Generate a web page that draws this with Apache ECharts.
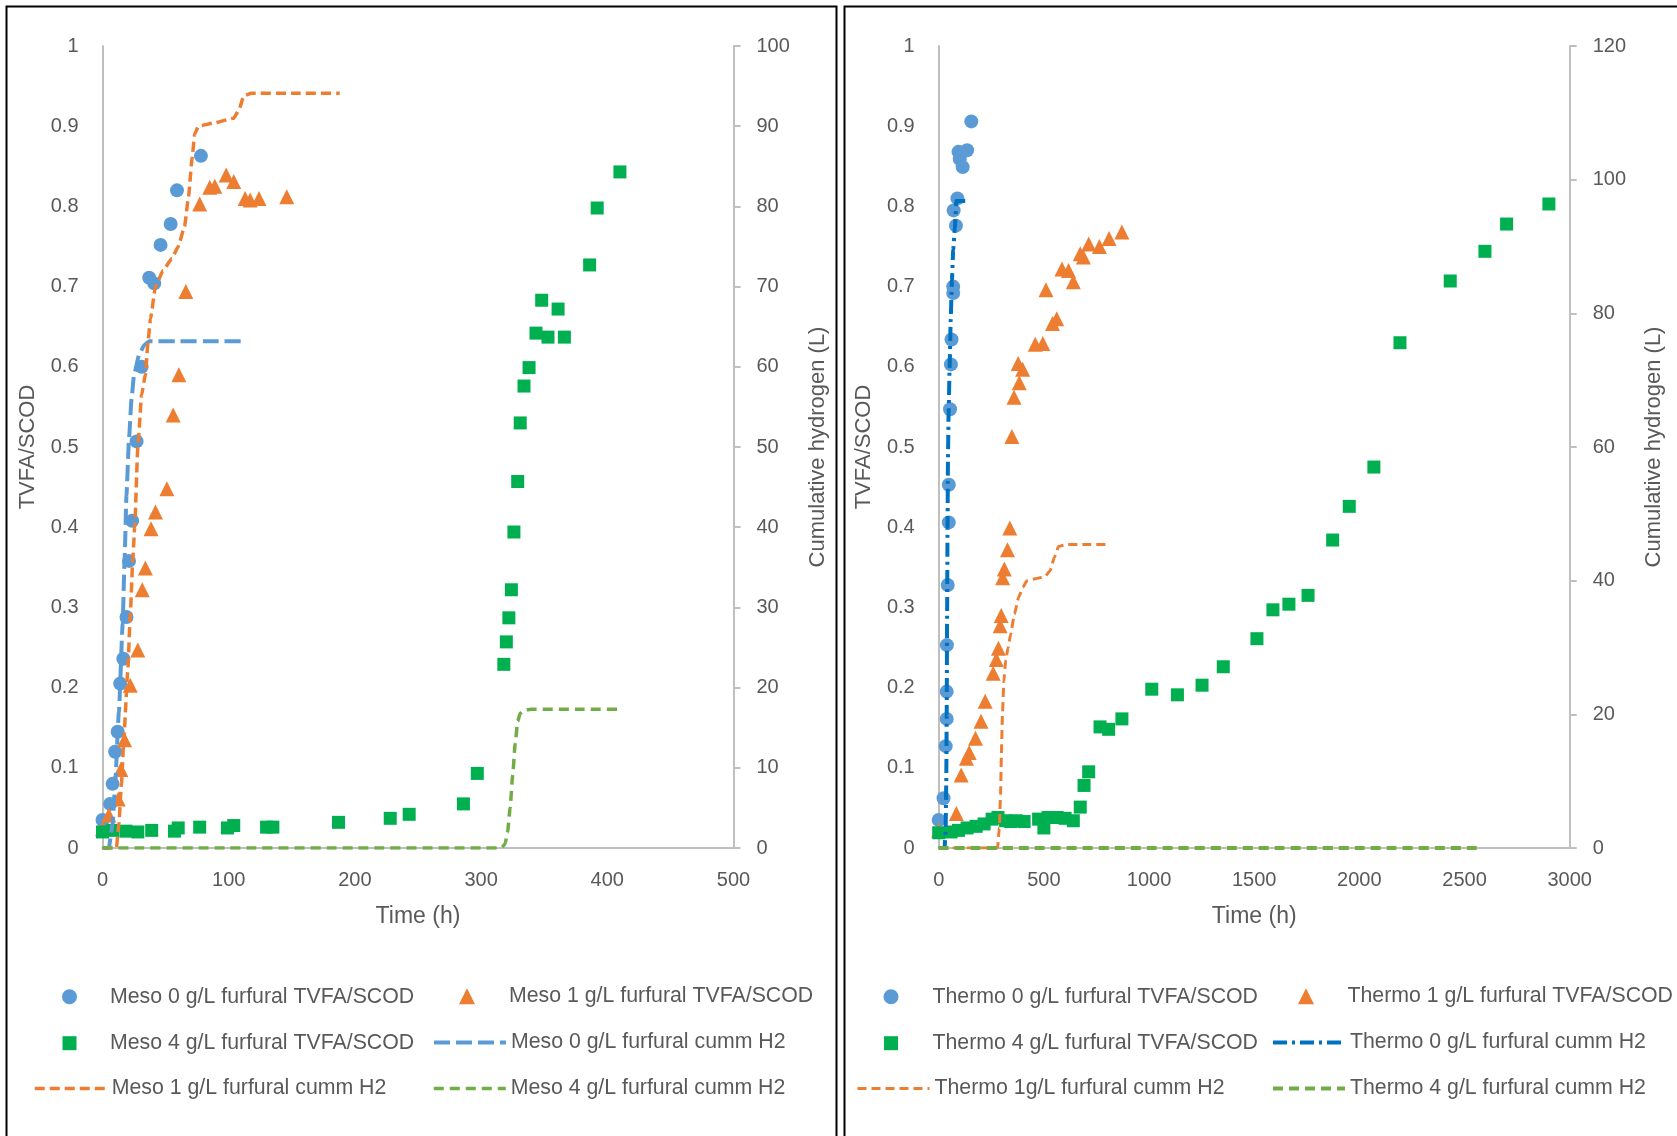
<!DOCTYPE html>
<html>
<head>
<meta charset="utf-8">
<script src="https://cdn.jsdelivr.net/npm/echarts@6/dist/echarts.min.js"></script>
<style>
  html, body { margin: 0; padding: 0; background: #fff; }
  #chart { width: 1677px; height: 1136px; }
</style>
</head>
<body>
<div id="chart"></div>
<script>
// ---- Mesophilic run: TVFA/SCOD ratio vs time (h) ----
const meso0Tvfa = [[0,0.035],[6,0.055],[8,0.08],[10,0.12],[12,0.145],[14,0.205],[16.5,0.236],[19,0.288],[21,0.358],[23.5,0.408],[27,0.507],[31,0.600],[37,0.711],[41,0.704],[46,0.752],[54,0.778],[59,0.820],[78,0.863]];
const meso1Tvfa = [[0,0.024],[5,0.041],[12.5,0.061],[14.5,0.098],[17.5,0.135],[22,0.203],[28,0.247],[31.5,0.322],[34,0.349],[38.5,0.398],[42,0.419],[51,0.448],[56,0.540],[60.5,0.590],[66,0.694],[77,0.803],[85,0.824],[89,0.825],[98,0.839],[104,0.831],[113,0.810],[117,0.808],[124,0.810],[146,0.812]];
const meso4Tvfa = [[0,0.020],[8,0.022],[18.5,0.021],[28,0.020],[39,0.022],[57,0.021],[60,0.025],[77,0.026],[99,0.025],[104,0.028],[130,0.026],[135,0.026],[187,0.032],[228,0.037],[243,0.042],[286,0.055],[297,0.093],[318,0.229],[320,0.257],[322,0.287],[324,0.322],[326,0.394],[329,0.457],[331,0.530],[334,0.576],[338,0.599],[343.5,0.642],[348,0.683],[353,0.637],[361,0.672],[366,0.637],[386,0.727],[392,0.798],[410,0.843]];

// ---- Mesophilic run: cumulative hydrogen (L) vs time (h) ----
const meso0H2 = [[0,0],[5,0],[8,3],[10,8],[13,17],[16,28],[17.5,36],[19,44],[21,51],[23,56],[25,59],[29,61.5],[33,62.7],[37,63.2],[60,63.2],[90,63.2],[113,63.2]];
const meso1H2 = [[0,0],[11,0],[13,3],[15,8],[17,14],[20,22],[22,29],[24,36],[25.5,40],[28,50],[31,56.5],[34,59],[36,63],[38,66],[42,70],[48,72],[55,73.5],[60,75],[65,77.5],[68,81],[71,86],[73,89],[76,90],[88,90.4],[104,91],[108,92],[112,93.8],[118,94.1],[150,94.1],[188,94.1]];
const meso4H2 = [[0,0],[100,0],[200,0],[300,0],[316,0],[319,0.5],[321,2],[323,5],[325,9],[327,13],[329,15.8],[331,16.8],[334,17.2],[340,17.3],[380,17.3],[410,17.3]];

// ---- Thermophilic run: TVFA/SCOD ratio vs time (h) ----
const thermo0Tvfa = [[0,0.035],[23,0.062],[33,0.127],[38,0.161],[38,0.195],[39,0.253],[43,0.328],[48,0.406],[48,0.453],[54,0.547],[58,0.603],[61,0.634],[69,0.692],[69,0.700],[82,0.776],[71,0.795],[89,0.810],[114,0.849],[100,0.859],[94,0.868],[135,0.870],[155,0.906]];
const thermo1Tvfa = [[0,0.022],[84,0.043],[107,0.091],[132,0.112],[145,0.119],[175,0.137],[201,0.158],[221,0.183],[259,0.218],[274,0.235],[284,0.249],[292,0.277],[297,0.290],[304,0.337],[312,0.348],[327,0.372],[338,0.399],[348,0.513],[358,0.562],[383,0.580],[378,0.604],[399,0.597],[459,0.628],[495,0.629],[510,0.696],[541,0.654],[561,0.660],[586,0.722],[617,0.720],[640,0.706],[673,0.741],[688,0.737],[713,0.753],[764,0.750],[810,0.760],[871,0.768]];
const thermo4Tvfa = [[0,0.019],[59,0.020],[94,0.022],[135,0.025],[178,0.027],[216,0.030],[254,0.036],[282,0.038],[318,0.034],[343,0.033],[368,0.034],[406,0.033],[475,0.036],[500,0.025],[520,0.038],[563,0.038],[601,0.037],[640,0.034],[673,0.051],[691,0.078],[713,0.095],[767,0.151],[808,0.148],[871,0.161],[1013,0.198],[1135,0.191],[1252,0.203],[1353,0.226],[1513,0.261],[1589,0.297],[1665,0.304],[1756,0.315],[1873,0.384],[1952,0.426],[2069,0.475],[2193,0.630],[2432,0.707],[2597,0.744],[2700,0.778],[2901,0.803]];

// ---- Thermophilic run: cumulative hydrogen (L) vs time (h) ----
const thermo0H2 = [[0,0],[28,0],[33,3],[36,10],[38,20],[40,35],[42,48],[44,58],[47,65],[52,72],[57,79],[63,85],[69,89.5],[77,92.8],[84,96.8],[110,96.8],[150,96.8]];
const thermo1H2 = [[0,0],[200,0],[280,0],[288,3],[294,8],[298,14],[303,20],[310,25],[318,28],[330,30],[342,32],[360,35],[380,37.5],[400,39],[420,40],[460,40.3],[505,40.6],[530,41.5],[550,43.5],[570,45.1],[600,45.4],[700,45.4],[793,45.4]];
const thermo4H2 = [[0,0],[500,0],[1000,0],[1500,0],[2000,0],[2580,0]];

// ---- Axis ranges / titles ----
const mesoTimeAxis = { min: 0, max: 500, interval: 100 };
const thermoTimeAxis = { min: 0, max: 3000, interval: 500 };
const ratioAxis = { min: 0, max: 1, interval: 0.1 };
const mesoH2Axis = { min: 0, max: 100, interval: 10 };
const thermoH2Axis = { min: 0, max: 120, interval: 20 };
const timeTitle = 'Time (h)';
const ratioTitle = 'TVFA/SCOD';
const h2Title = 'Cumulative hydrogen (L)';

const FONT = '"Liberation Sans", Arial, sans-serif';
const TEXT = '#595959';
const AXIS = '#BFBFBF';
const BLUE = '#5B9BD5', ORANGE = '#ED7D31', GREEN = '#00B050', LGREEN = '#70AD47', DBLUE = '#0070C0';

const chart = echarts.init(document.getElementById('chart'), null, { renderer: 'canvas' });

const plainNumber = v => String(Math.round(v * 1000) / 1000);

function xAxisCfg(gridIndex, r) {
  return {
    type: 'value', gridIndex, min: r.min, max: r.max, interval: r.interval,
    name: timeTitle, nameLocation: 'middle', nameGap: 57,
    nameTextStyle: { fontSize: 23, color: TEXT, fontFamily: FONT },
    axisLine: { show: true, onZero: false, lineStyle: { color: AXIS, width: 2 } },
    axisTick: { show: false },
    splitLine: { show: false },
    axisLabel: { margin: 22, fontSize: 20, color: TEXT, fontFamily: FONT, formatter: plainNumber }
  };
}
function leftYCfg(gridIndex, r) {
  return {
    type: 'value', gridIndex, position: 'left', min: r.min, max: r.max, interval: r.interval,
    name: ratioTitle, nameLocation: 'middle', nameGap: 64,
    nameTextStyle: { fontSize: 22, color: TEXT, fontFamily: FONT },
    axisLine: { show: true, onZero: false, lineStyle: { color: AXIS, width: 2 } },
    axisTick: { show: false },
    splitLine: { show: false },
    axisLabel: { margin: 24, fontSize: 20, color: TEXT, fontFamily: FONT, formatter: plainNumber }
  };
}
function rightYCfg(gridIndex, r) {
  return {
    type: 'value', gridIndex, position: 'right', min: r.min, max: r.max, interval: r.interval,
    name: h2Title, nameLocation: 'middle', nameGap: 73,
    nameTextStyle: { fontSize: 22, color: TEXT, fontFamily: FONT },
    axisLine: { show: true, onZero: false, lineStyle: { color: AXIS, width: 2 } },
    axisTick: { show: true, length: 7, lineStyle: { color: AXIS, width: 2 } },
    splitLine: { show: false },
    axisLabel: { margin: 23, fontSize: 20, color: TEXT, fontFamily: FONT, formatter: plainNumber }
  };
}

function scatter(name, data, xi, yi, symbol, size, color) {
  return {
    name, type: 'scatter', data, xAxisIndex: xi, yAxisIndex: yi,
    symbol, symbolSize: size, itemStyle: { color, opacity: 1 }
  };
}
function line(name, data, xi, yi, color, width, dash) {
  return {
    name, type: 'line', data, xAxisIndex: xi, yAxisIndex: yi,
    symbol: 'none', showSymbol: false, smooth: 0.15, smoothMonotone: 'x',
    itemStyle: { color },
    lineStyle: { color, width, type: dash, cap: 'butt' }
  };
}

const series = [
  scatter('Meso 0 g/L furfural TVFA/SCOD', meso0Tvfa, 0, 0, 'circle', 14, BLUE),
  scatter('Meso 1 g/L furfural TVFA/SCOD', meso1Tvfa, 0, 0, 'triangle', 15, ORANGE),
  scatter('Meso 4 g/L furfural TVFA/SCOD', meso4Tvfa, 0, 0, 'rect', 13, GREEN),
  line('Meso 0 g/L furfural cumm H2', meso0H2, 0, 1, BLUE, 4, [16, 6]),
  line('Meso 1 g/L furfural cumm H2', meso1H2, 0, 1, ORANGE, 3.5, [10, 5]),
  line('Meso 4 g/L furfural cumm H2', meso4H2, 0, 1, LGREEN, 3.5, [10, 6]),
  scatter('Thermo 0 g/L furfural TVFA/SCOD', thermo0Tvfa, 1, 2, 'circle', 14, BLUE),
  scatter('Thermo 1 g/L furfural TVFA/SCOD', thermo1Tvfa, 1, 2, 'triangle', 15, ORANGE),
  scatter('Thermo 4 g/L furfural TVFA/SCOD', thermo4Tvfa, 1, 2, 'rect', 13, GREEN),
  line('Thermo 0 g/L furfural cumm H2', thermo0H2, 1, 3, DBLUE, 4, [14, 5, 3, 5]),
  line('Thermo 1g/L furfural cumm H2', thermo1H2, 1, 3, ORANGE, 3, [9, 5]),
  line('Thermo 4 g/L furfural cumm H2', thermo4H2, 1, 3, LGREEN, 4, [10, 6])
];

// legend entries laid out two per row under each panel
const legendRows = [985, 1031, 1077];
const legendText = { fontSize: 21.3, color: TEXT, fontFamily: FONT };
// marker entry: symbol centred at cx, label starting at textX
function markerLegend(s, cx, textX, top, size) {
  const left = cx - size / 2;
  return {
    data: [s.name], left, top: top + 8.7 - size / 2, orient: 'horizontal', padding: 0, itemGap: 0,
    itemWidth: size, itemHeight: size, selectedMode: false,
    textStyle: Object.assign({}, legendText, { padding: [0, 0, 0, textX - (left + size + 5)] })
  };
}
// line entry: dashed stroke from left to left + 72
function lineLegend(s, left, top) {
  return {
    data: [s.name], left, top: top + 1, orient: 'horizontal', padding: 0, itemGap: 0,
    itemWidth: 72, itemHeight: 20, selectedMode: false,
    itemStyle: { color: 'rgba(0,0,0,0)', borderWidth: 0 },
    lineStyle: { color: s.lineStyle.color, width: s.lineStyle.width, type: s.lineStyle.type, cap: 'butt' },
    textStyle: legendText
  };
}
const legends = [
  markerLegend(series[0], 69.5, 110, legendRows[0], 15),
  markerLegend(series[1], 467, 509, legendRows[0], 16),
  markerLegend(series[2], 69.5, 110, legendRows[1], 14),
  lineLegend(series[3], 432, legendRows[1]),
  lineLegend(series[4], 33, legendRows[2]),
  lineLegend(series[5], 432, legendRows[2]),
  markerLegend(series[6], 891, 932.5, legendRows[0], 15),
  markerLegend(series[7], 1306, 1347.5, legendRows[0], 16),
  markerLegend(series[8], 891, 932.5, legendRows[1], 14),
  lineLegend(series[9], 1271, legendRows[1]),
  lineLegend(series[10], 856, legendRows[2]),
  lineLegend(series[11], 1271, legendRows[2])
];

chart.setOption({
  animation: false,
  backgroundColor: '#ffffff',
  textStyle: { fontFamily: FONT },
  grid: [
    { left: 102.5, top: 46, width: 631, height: 802, containLabel: false },
    { left: 938.7, top: 46, width: 631, height: 802, containLabel: false }
  ],
  xAxis: [xAxisCfg(0, mesoTimeAxis), xAxisCfg(1, thermoTimeAxis)],
  yAxis: [leftYCfg(0, ratioAxis), rightYCfg(0, mesoH2Axis), leftYCfg(1, ratioAxis), rightYCfg(1, thermoH2Axis)],
  legend: legends,
  graphic: [
    { type: 'rect', silent: true, z: 100, shape: { x: 6.5, y: 6.5, width: 830, height: 1140 }, style: { fill: 'none', stroke: '#000', lineWidth: 2 } },
    { type: 'rect', silent: true, z: 100, shape: { x: 844.5, y: 6.5, width: 900, height: 1140 }, style: { fill: 'none', stroke: '#000', lineWidth: 2 } }
  ],
  series
});
</script>
</body>
</html>
